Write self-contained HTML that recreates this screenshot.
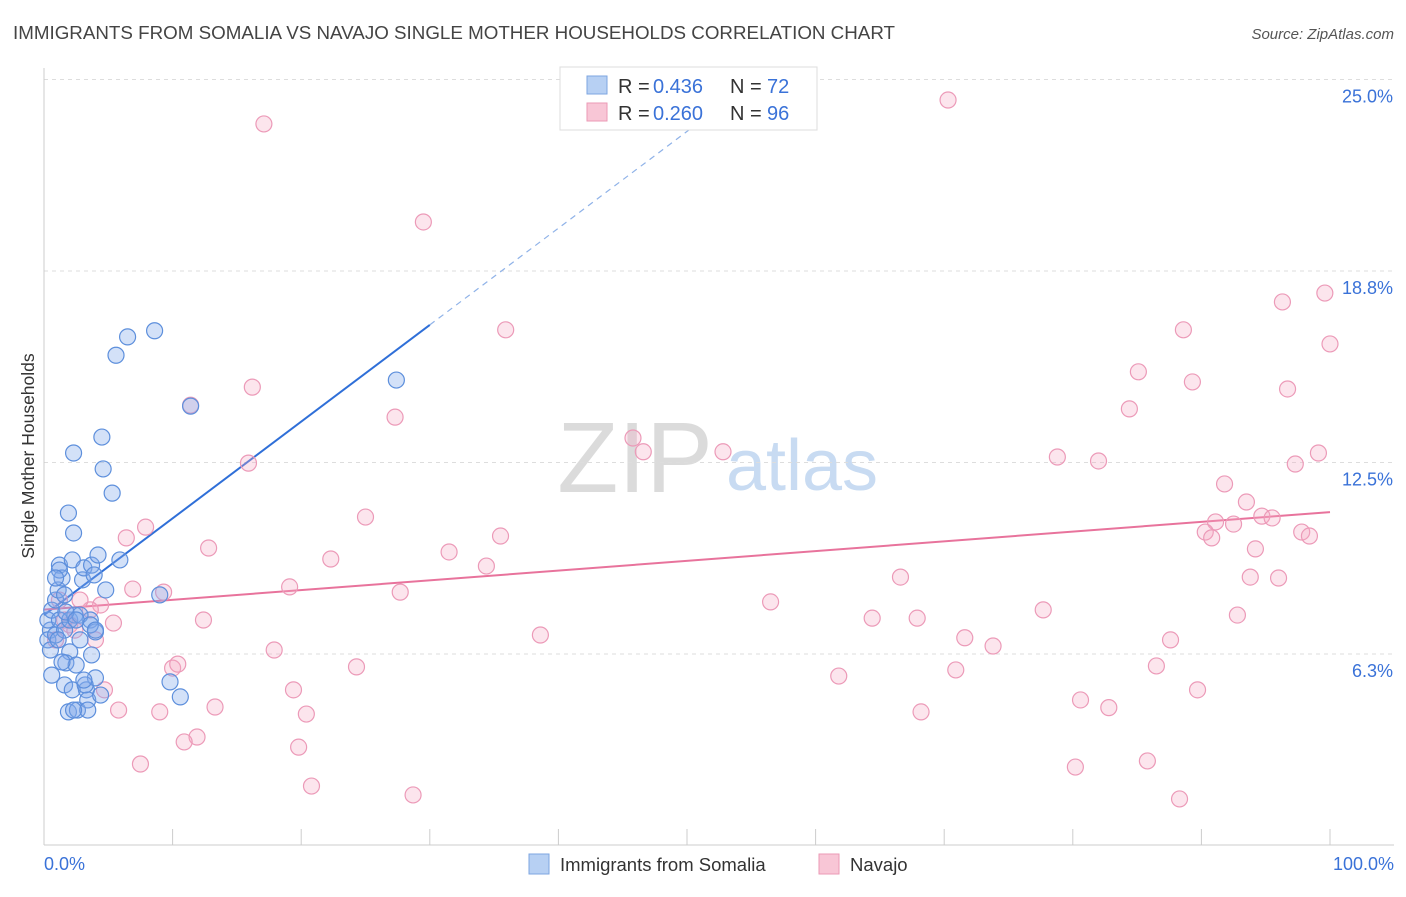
<!DOCTYPE html>
<html><head><meta charset="utf-8"><style>
body{margin:0;background:#fff;font-family:"Liberation Sans",sans-serif;}
svg text{font-family:"Liberation Sans",sans-serif;}
</style></head><body>
<svg id="chart" width="1406" height="892" viewBox="0 0 1406 892" xmlns="http://www.w3.org/2000/svg">
<text x="13" y="39" font-size="18" fill="#444" textLength="882" lengthAdjust="spacingAndGlyphs">IMMIGRANTS FROM SOMALIA VS NAVAJO SINGLE MOTHER HOUSEHOLDS CORRELATION CHART</text>
<text x="1394" y="39" font-size="15" fill="#555" text-anchor="end" font-style="italic">Source: ZipAtlas.com</text>
<text transform="translate(34,456) rotate(-90)" font-size="17.5" fill="#333" text-anchor="middle">Single Mother Households</text>
<g opacity="0.6">
<text x="635" y="492" font-size="100" fill="#c4c4c4" font-family="Liberation Serif" text-anchor="middle">ZIP</text>
<text x="802" y="490" font-size="72" fill="#a4c4ea" text-anchor="middle">atlas</text>
</g>
<g id="grid"></g><g id="axes"></g><g id="trends"></g><g id="points"></g>
<g>
<rect x="560" y="67" width="257" height="63" fill="#fff" stroke="#ddd"/>
<rect x="587" y="76" width="20" height="18" fill="#b7d0f3" stroke="#7ea6e0"/>
<text x="618" y="93" font-size="20" fill="#333">R =</text>
<text x="653" y="93" font-size="20" fill="#3a72d8">0.436</text>
<text x="730" y="93" font-size="20" fill="#333">N =</text>
<text x="767" y="93" font-size="20" fill="#3a72d8">72</text>
<rect x="587" y="103" width="20" height="18" fill="#f8c6d6" stroke="#eb9ab6"/>
<text x="618" y="120" font-size="20" fill="#333">R =</text>
<text x="653" y="120" font-size="20" fill="#3a72d8">0.260</text>
<text x="730" y="120" font-size="20" fill="#333">N =</text>
<text x="767" y="120" font-size="20" fill="#3a72d8">96</text>
</g>
<g>
<rect x="529" y="854" width="20" height="20" fill="#b7d0f3" stroke="#7ea6e0"/>
<text x="560" y="871" font-size="18.5" fill="#333">Immigrants from Somalia</text>
<rect x="819" y="854" width="20" height="20" fill="#f8c6d6" stroke="#eb9ab6"/>
<text x="850" y="871" font-size="18.5" fill="#333">Navajo</text>
</g>
</svg>
<script>
const yTicks=[6.25,12.5,18.75,25];
const yTickLabels=["6.3%","12.5%","18.8%","25.0%"];
const xTickLabels=["0.0%","100.0%"];
const blueX=[0.6,0.5,0.3,0.6,0.9,1.1,1.2,1.4,1.2,0.9,1.6,1.9,2.2,2.3,2.3,2.0,1.7,1.6,1.9,2.2,2.5,2.6,2.8,3.0,3.1,3.3,3.4,3.4,3.6,3.7,3.9,4.0,4.0,4.2,4.4,4.5,4.6,4.8,5.3,5.6,5.9,6.5,8.6,9.0,9.8,10.6,11.4,27.4,0.3,0.9,1.2,1.6,2.0,2.4,2.8,3.2,3.6,4.0,1.4,0.5,1.1,2.3,3.7,3.1,1.7,2.5];
const blueY=[5.56,7.03,7.36,7.68,8.01,8.34,9.15,8.73,8.99,8.73,8.18,10.85,9.32,10.2,12.81,6.32,5.96,5.24,4.36,5.08,5.89,4.42,6.71,8.67,9.06,5.08,4.75,4.42,7.36,9.15,8.83,6.97,5.47,9.48,4.91,13.33,12.29,8.34,11.5,16.0,9.32,16.6,16.8,8.18,5.34,4.85,14.34,15.19,6.71,6.87,7.36,7.03,7.36,7.52,7.52,5.24,7.2,7.03,5.99,6.38,6.71,4.42,6.22,5.4,7.62,7.36];
const pinkX=[17.1,70.3,29.5,35.9,16.2,11.4,27.3,99.6,96.3,100,88.6,85.1,89.3,96.7,84.4,45.8,46.6,52.8,78.8,82.0,99.1,97.3,91.8,93.5,94.7,95.5,91.1,92.5,90.3,90.8,97.8,98.4,94.2,93.8,96.0,15.9,7.9,6.4,12.8,25.0,22.3,31.5,35.5,34.4,19.1,27.7,6.9,9.3,66.6,56.5,77.7,92.8,64.4,67.9,12.4,5.4,71.6,73.8,87.6,38.6,17.9,24.3,10.0,10.4,61.8,70.9,86.5,19.4,80.6,82.8,89.7,13.3,9.0,5.8,20.4,68.2,11.9,10.9,19.8,7.5,80.2,85.8,20.8,28.7,88.3,4.4,3.6,2.8,2.0,1.2,0.9,2.4,4.0,4.7,1.6];
const pinkY=[23.55,24.33,20.35,16.83,14.96,14.37,13.98,18.03,17.74,16.37,16.83,15.46,15.13,14.9,14.25,13.3,12.85,12.85,12.68,12.55,12.81,12.45,11.8,11.21,10.75,10.69,10.56,10.49,10.23,10.04,10.23,10.1,9.68,8.76,8.73,12.48,10.39,10.04,9.71,10.72,9.35,9.58,10.1,9.12,8.44,8.27,8.37,8.27,8.76,7.95,7.69,7.52,7.42,7.42,7.36,7.26,6.78,6.51,6.71,6.87,6.38,5.83,5.79,5.92,5.53,5.73,5.86,5.08,4.75,4.5,5.08,4.52,4.36,4.42,4.29,4.36,3.54,3.38,3.21,2.66,2.56,2.76,1.94,1.65,1.52,7.85,7.69,8.01,7.2,8.01,6.71,7.03,6.71,5.08,7.36];
const blueTrend=[7.52,0.3157];
const pinkTrend=[7.7,0.0318];

const NS="http://www.w3.org/2000/svg";
const X=v=>44+v*12.86;
const Y=v=>845.5-v*30.64;
function mk(tag,attrs,parent){const e=document.createElementNS(NS,tag);for(const k in attrs)e.setAttribute(k,attrs[k]);parent.appendChild(e);return e;}
const grid=document.getElementById('grid'),axes=document.getElementById('axes'),trends=document.getElementById('trends'),pts=document.getElementById('points');
yTicks.forEach((t,i)=>{
  const l=mk('line',{x1:44,x2:1394,y1:Y(t),y2:Y(t),stroke:'#ddd','stroke-dasharray':'4,4'},grid);
  
  
  const tx=mk('text',{x:1393,y:Y(t)+23,'font-size':18,fill:'#3a72d8','text-anchor':'end'},axes);
  tx.textContent=yTickLabels[i];
  
  
});
const ya=mk('line',{x1:44,x2:44,y1:68,y2:845,stroke:'#ccc'},axes);


const xa=mk('line',{x1:44,x2:1394,y1:845,y2:845,stroke:'#ccc'},axes);


for(let i=0;i<=10;i++){
  const tk=mk('line',{x1:X(i*10),x2:X(i*10),y1:829,y2:845,stroke:'#ccc'},axes);
  
  
}
const xl0=mk('text',{x:44,y:870,'font-size':18,fill:'#3a72d8'},axes);
xl0.textContent=xTickLabels[0];


const xl1=mk('text',{x:1394,y:870,'font-size':18,fill:'#3a72d8','text-anchor':'end'},axes);
xl1.textContent=xTickLabels[1];



const be=30, bEnd=(25-blueTrend[0])/blueTrend[1];
const bl=mk('line',{x1:X(0),y1:Y(blueTrend[0]),x2:X(be),y2:Y(blueTrend[0]+blueTrend[1]*be),stroke:'#2f6fd8','stroke-width':2},trends);


const bd=mk('line',{x1:X(be),y1:Y(blueTrend[0]+blueTrend[1]*be),x2:X(bEnd),y2:Y(25),stroke:'#8fb2e8','stroke-width':1.2,'stroke-dasharray':'6,5'},trends);


const pl=mk('line',{x1:X(0),y1:Y(pinkTrend[0]),x2:X(100),y2:Y(pinkTrend[0]+pinkTrend[1]*100),stroke:'#e8739c','stroke-width':2},trends);



pinkX.forEach((x,i)=>{
  const c=mk('circle',{cx:X(x),cy:Y(pinkY[i]),r:8,fill:'rgba(246,170,196,0.3)',stroke:'#ec9ab8','stroke-width':1.2},pts);
  
  
});
blueX.forEach((x,i)=>{
  const c=mk('circle',{cx:X(x),cy:Y(blueY[i]),r:8,fill:'rgba(130,170,235,0.35)',stroke:'#5d8fdc','stroke-width':1.2},pts);
  
  
});
</script>
</body></html>
